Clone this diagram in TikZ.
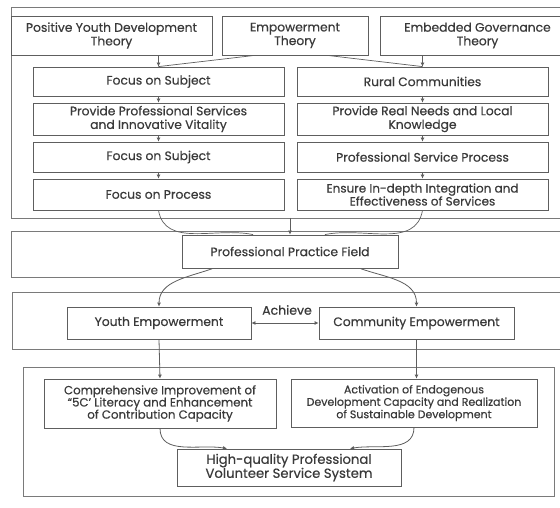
\documentclass[tikz,border=0pt]{standalone}
\usepackage{fontspec}
\setmainfont{Poppins}[FakeBold=0.45]
\usetikzlibrary{arrows.meta}
\definecolor{linegray}{HTML}{5E5E5E}
\definecolor{framegray}{HTML}{7A7A7A}
\definecolor{textgray}{HTML}{3A3A3A}
\newcommand{\fs}[2]{\fontsize{#1}{#2}\selectfont}
\tikzset{
  box/.style={draw=linegray, line width=0.8pt, align=center, inner sep=1pt,
    text=textgray, font=\fs{12.3}{13.6}},
  frame/.style={draw=framegray, line width=0.8pt},
  arr/.style={draw=linegray, line width=0.8pt, -{Latex[length=4pt,width=4pt]}},
  dbl/.style={draw=linegray, line width=0.8pt, {Latex[length=4pt,width=4pt]}-{Latex[length=4pt,width=4pt]}},
  ln/.style={draw=linegray, line width=0.7pt},
}
\begin{document}
\begin{tikzpicture}[x=1pt,y=1pt]
\useasboundingbox (0,0) rectangle (560,507);
\fill[white] (0,0) rectangle (560,507);
\clip (0,0) rectangle (560,507);
% frames
\draw[frame] (11,289) rectangle (575,500);
\draw[frame] (11,230) rectangle (575,276);
\draw[frame] (12,158) rectangle (575,215);
\draw[frame] (23,11) rectangle (554,140);
% theory boxes
\node[box, minimum width=201pt, minimum height=39pt] (pyd) at (111.5,471.5) {Positive Youth Development\\Theory};
\node[box, minimum width=146pt, minimum height=39pt] (emp) at (295,471.5) {Empowerment\\Theory};
\node[box, minimum width=195pt, minimum height=39pt] (emb) at (477.5,471.5) {Embedded Governance\\Theory};
% left column
\node[box, minimum width=251pt, minimum height=29pt] (l1) at (158.5,425.5) {Focus on Subject};
\node[box, minimum width=251pt, minimum height=32pt] (l2) at (158.5,388) {Provide Professional Services\\and Innovative Vitality};
\node[box, minimum width=251pt, minimum height=30pt] (l3) at (158.5,350) {Focus on Subject};
\node[box, minimum width=251pt, minimum height=31pt] (l4) at (158.5,312.5) {Focus on Process};
% right column
\node[box, minimum width=251pt, minimum height=29pt] (r1) at (422.5,425.5) {Rural Communities};
\node[box, minimum width=251pt, minimum height=32pt] (r2) at (422.5,388) {Provide Real Needs and Local\\Knowledge};
\node[box, minimum width=251pt, minimum height=30pt] (r3) at (422.5,350) {Professional Service Process};
\node[box, minimum width=251pt, minimum height=31pt, font=\fs{12}{13}] (r4) at (422.5,312.5) {Ensure In-depth Integration and\\Effectiveness of Services};
% practice field
\node[box, minimum width=216pt, minimum height=33pt] (ppf) at (290,255.5) {Professional Practice Field};
\coordinate (f1b) at (290,289);
% empowerment row
\node[box, minimum width=184pt, minimum height=32pt] (ye) at (159,184) {Youth Empowerment};
\node[box, minimum width=195pt, minimum height=32pt] (ce) at (416.5,184) {Community Empowerment};
\node[text=textgray, font=\fs{12.5}{13}] (ach) at (287,197) {Achieve};
% outcomes
\node[box, minimum width=232pt, minimum height=49pt, font=\fs{11.8}{12.2}] (comp) at (160,103.5) {Comprehensive Improvement of\\``5C' Literacy and Enhancement\\of Contribution Capacity};
\node[box, minimum width=246pt, minimum height=48pt, font=\fs{11}{12.4}] (act) at (414,104) {Activation of Endogenous\\Development Capacity and Realization\\of Sustainable Development};
\node[box, minimum width=224pt, minimum height=37pt, font=\fs{13.2}{14}] (hq) at (289,39.5) {High-quality Professional\\Volunteer Service System};
% connectors top
\draw[arr] (pyd.south -| l1.north) -- (l1.north);
\draw[ln] ([xshift=33pt]emp.south west) -- (l1.north);
\draw[ln] ([xshift=-41pt]emp.south east) -- (r1.north);
\draw[arr] (emb.south -| r1.north) -- (r1.north);
\draw[arr] (l1) -- (l2);
\draw[arr] (l2) -- (l3);
\draw[arr] (l3) -- (l4);
\draw[arr] (r1) -- (r2);
\draw[arr] (r2) -- (r3);
\draw[arr] (r3) -- (r4);
% to practice field
\draw[ln] (l4.south) to[out=-80,in=168] ([xshift=-37pt]ppf.north);
\draw[ln] (r4.south) to[out=-100,in=12] ([xshift=35pt]ppf.north);
\draw[arr] (f1b) -- (ppf.north);
% practice field to empowerment
\draw[arr] ([xshift=-77pt]ppf.south) to[out=200,in=90] (ye.north);
\draw[arr] ([xshift=70pt]ppf.south) to[out=-20,in=90] (ce.north);
\draw[dbl] (ye.east) -- (ce.west);
% to outcomes
\draw[arr] (ye.south) -- (comp.north);
\draw[arr] (ce.south) -- (ce.south |- act.north);
\draw[arr] (comp.south) to[out=-90,in=170] ([xshift=-62pt]hq.north);
\draw[arr] (act.south) to[out=-90,in=10] ([xshift=61pt]hq.north);
\end{tikzpicture}
\end{document}
